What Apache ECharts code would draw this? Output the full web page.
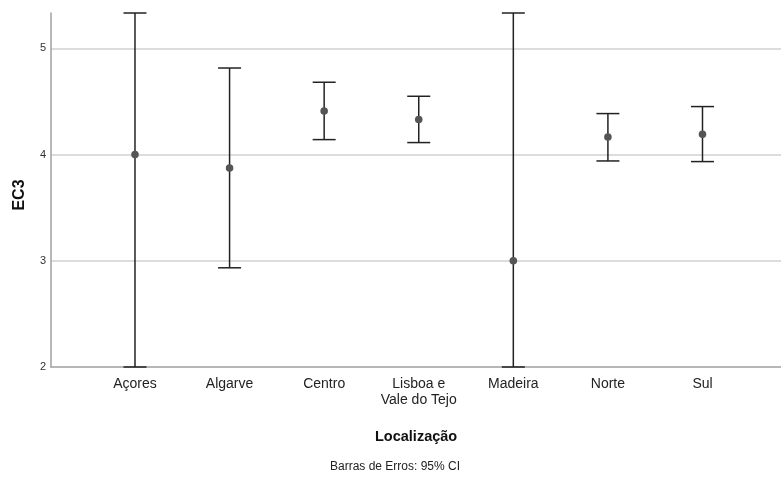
<!DOCTYPE html>
<html>
<head>
<meta charset="utf-8">
<script src="https://cdn.jsdelivr.net/npm/echarts@6/dist/echarts.min.js"></script>
<style>html,body{margin:0;padding:0;background:#fff}#c{width:781px;height:478px}</style>
</head>
<body>
<div id="c"></div>
<script>
var categories = ['Açores', 'Algarve', 'Centro', 'Lisboa e\nVale do Tejo', 'Madeira', 'Norte', 'Sul'];
var means = [4.0, 3.874, 4.411, 4.330, 3.0, 4.166, 4.191];
var lower = [2.0, 2.934, 4.141, 4.113, 2.0, 3.940, 3.934];
var upper = [5.333, 4.815, 4.681, 4.549, 5.333, 4.386, 4.452];
var yTicks = [2, 3, 4, 5];

var FONT = '"Liberation Sans", Arial, sans-serif';
var data = categories.map(function (c, i) { return [i, lower[i], means[i], upper[i]]; });

var chart = echarts.init(document.getElementById('c'), null, {renderer: 'canvas'});
chart.setOption({
  animation: false,
  grid: {left: 51, right: 0, top: 13, bottom: 111},
  xAxis: {
    type: 'value', min: -0.888, max: 6.83,
    axisLine: {onZero: false, lineStyle: {color: '#a0a0a0', width: 1.5}},
    axisTick: {show: false},
    splitLine: {show: false},
    axisLabel: {
      customValues: categories.map(function (c, i) { return i; }),
      formatter: function (v) { return categories[Math.round(v)]; },
      color: '#222', fontFamily: FONT, fontSize: 14, lineHeight: 16, margin: 9
    }
  },
  yAxis: {
    type: 'value', min: 2, max: 5.333, interval: 1,
    axisLine: {show: true, onZero: false, lineStyle: {color: '#a0a0a0', width: 1.5}},
    axisTick: {show: false},
    splitLine: {show: true, showMinLine: false, showMaxLine: false, lineStyle: {color: '#d0d0d0', width: 1.5}},
    axisLabel: {
      customValues: yTicks,
      color: '#333', fontFamily: FONT, fontSize: 11, margin: 5
    }
  },
  graphic: [
    {type: 'text', left: 375, top: 429, style: {text: 'Localização', font: 'bold 14.5px ' + FONT, fill: '#111'}},
    {type: 'text', left: 330, top: 461, style: {text: 'Barras de Erros: 95% CI', font: '12px ' + FONT, fill: '#222'}},
    {type: 'text', x: 20, y: 195, rotation: Math.PI / 2, style: {text: 'EC3', font: 'bold 16px ' + FONT, fill: '#111', align: 'center', verticalAlign: 'middle'}}
  ],
  series: [{
    type: 'custom',
    clip: false,
    data: data,
    renderItem: function (params, api) {
      var x = api.value(0);
      var lo = api.coord([x, api.value(1)]);
      var mid = api.coord([x, api.value(2)]);
      var hi = api.coord([x, api.value(3)]);
      var hw = 11.5;
      var ls = {stroke: '#222', lineWidth: 1.5};
      return {
        type: 'group',
        children: [
          {type: 'line', shape: {x1: lo[0], y1: lo[1], x2: hi[0], y2: hi[1]}, style: ls},
          {type: 'line', shape: {x1: lo[0] - hw, y1: lo[1], x2: lo[0] + hw, y2: lo[1]}, style: ls},
          {type: 'line', shape: {x1: hi[0] - hw, y1: hi[1], x2: hi[0] + hw, y2: hi[1]}, style: ls},
          {type: 'circle', shape: {cx: mid[0], cy: mid[1], r: 3.8}, style: {fill: '#555555'}}
        ]
      };
    }
  }]
});
</script>
</body>
</html>
